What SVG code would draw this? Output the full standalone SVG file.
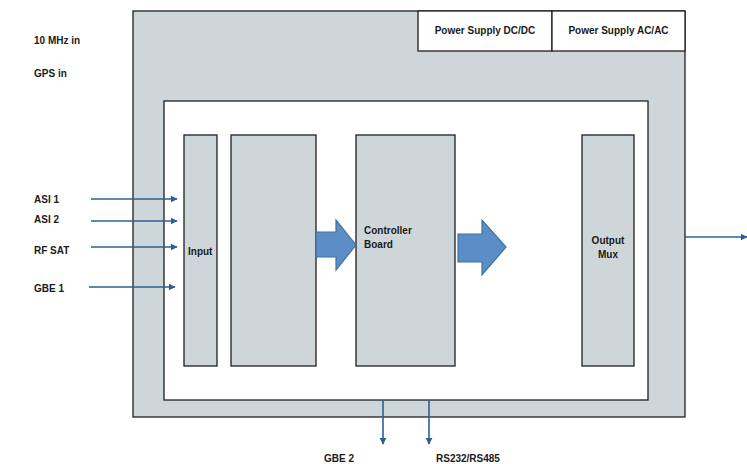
<svg xmlns="http://www.w3.org/2000/svg" width="747" height="464" viewBox="0 0 747 464">
<defs>
<style>
.box{fill:#CFD6D9;stroke:#1f1f1f;stroke-width:1.3}
.wbox{fill:#ffffff;stroke:#1f1f1f;stroke-width:1.3}
.t{font-family:"Liberation Sans",Arial,sans-serif;font-weight:bold;font-size:10px;fill:#1a1a1a}
.ln{stroke:#2E5F93;stroke-width:1.6;fill:none}
.blk{fill:#5B8EC6;stroke:#41719C;stroke-width:1.2}
</style>
<marker id="ah" viewBox="0 0 10 10" refX="9" refY="5" markerWidth="4.5" markerHeight="4.5" orient="auto" markerUnits="strokeWidth">
<path d="M0,0 L10,5 L0,10 z" fill="#2E5F93"/>
</marker>
</defs>
<rect width="747" height="464" fill="#ffffff"/>
<g id="chassis">
<rect class="box" x="133" y="11" width="552" height="406"/>
</g>
<g id="psu-dcdc">
<rect class="wbox" x="418" y="11" width="134" height="40"/>
<text class="t" x="485" y="34" text-anchor="middle">Power Supply DC/DC</text>
</g>
<g id="psu-acac">
<rect class="wbox" x="552" y="11" width="133" height="40"/>
<text class="t" x="618.5" y="34" text-anchor="middle">Power Supply AC/AC</text>
</g>
<g id="inner">
<rect class="wbox" x="164" y="101" width="484" height="299"/>
</g>
<g id="input">
<rect class="box" x="184" y="135" width="33" height="231"/>
<text class="t" x="188" y="255">Input</text>
</g>
<g id="module2">
<rect class="box" x="231" y="135" width="85" height="231"/>
</g>
<g id="controller">
<rect class="box" x="356" y="135" width="99" height="231"/>
<text class="t" x="364" y="234">Controller</text>
<text class="t" x="364" y="248">Board</text>
</g>
<g id="output-mux">
<rect class="box" x="582" y="135" width="52" height="231"/>
<text class="t" x="608" y="244" text-anchor="middle">Output</text>
<text class="t" x="608" y="258" text-anchor="middle">Mux</text>
</g>
<g id="labels">
<text class="t" x="34" y="44">10 MHz in</text>
<text class="t" x="34" y="77">GPS in</text>
<text class="t" x="34" y="203">ASI 1</text>
<text class="t" x="34" y="223">ASI 2</text>
<text class="t" x="34" y="254">RF SAT</text>
<text class="t" x="34" y="292">GBE 1</text>
<text class="t" x="339" y="462" text-anchor="middle">GBE 2</text>
<text class="t" x="436" y="462">RS232/RS485</text>
</g>
<g id="connectors">
<line class="ln" x1="91" y1="199" x2="177" y2="199" marker-end="url(#ah)"/>
<line class="ln" x1="91" y1="221" x2="177" y2="221" marker-end="url(#ah)"/>
<line class="ln" x1="91" y1="247" x2="177" y2="247" marker-end="url(#ah)"/>
<line class="ln" x1="89" y1="287" x2="175" y2="287" marker-end="url(#ah)"/>
<line class="ln" x1="685" y1="237" x2="747" y2="237" marker-end="url(#ah)"/>
<line class="ln" x1="383" y1="400" x2="383" y2="444" marker-end="url(#ah)"/>
<line class="ln" x1="429" y1="400" x2="429" y2="444" marker-end="url(#ah)"/>
<path class="blk" d="M316,232 L336,232 L336,220 L356,245 L336,270 L336,257 L316,257 Z"/>
<path class="blk" d="M458,234 L482,234 L482,220 L506,247 L482,275 L482,262 L458,262 Z"/>
</g>
</svg>
